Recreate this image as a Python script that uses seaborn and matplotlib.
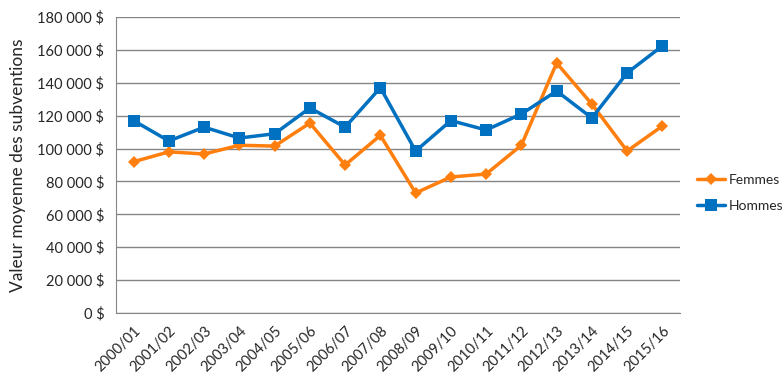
import matplotlib
matplotlib.use("Agg")
import matplotlib.pyplot as plt
import matplotlib.ticker as mticker
import seaborn as sns
import numpy as np
import pandas as pd

annees = ["2000/01", "2001/02", "2002/03", "2003/04", "2004/05", "2005/06",
          "2006/07", "2007/08", "2008/09", "2009/10", "2010/11", "2011/12",
          "2012/13", "2013/14", "2014/15", "2015/16"]
femmes = [92000, 98000, 96700, 102000, 101500, 115500, 90000, 108000,
          73000, 82700, 84500, 102000, 152000, 127000, 98500, 113700]
hommes = [117000, 104600, 113000, 106400, 109000, 124700, 113000, 137000,
          98500, 117000, 111300, 121000, 135000, 118600, 146000, 162400]

sns.set_style("white")
plt.rcParams['font.family'] = ['Lato', 'DejaVu Sans']

df = pd.DataFrame({"pos": np.arange(len(annees)), "Femmes": femmes, "Hommes": hommes})

fig = plt.figure(figsize=(7.83, 3.84), dpi=100)
ax = fig.add_axes([116/783, 1-313/384, (680-116)/783, (313-17)/384])

sns.lineplot(data=df, x="pos", y="Femmes", ax=ax, color="#FF7F0E", marker="D",
             markersize=6, linewidth=2.5, markeredgewidth=0, label="Femmes")
sns.lineplot(data=df, x="pos", y="Hommes", ax=ax, color="#0070C0", marker="s",
             markersize=8, linewidth=2.5, markeredgewidth=0, label="Hommes")

ax.set_xlim(-0.5, len(annees) - 0.5)
ax.set_ylim(0, 180000)
ax.yaxis.set_major_locator(mticker.MultipleLocator(20000))
ax.yaxis.set_major_formatter(mticker.FuncFormatter(
    lambda v, p: "0 $" if v == 0 else "{:,.0f} $".format(v).replace(",", " ")))
ax.grid(axis="y", color="#868686", linewidth=1)
ax.set_axisbelow(True)

ax.set_xticks(np.arange(len(annees)))
ax.set_xticklabels(annees, rotation=45, ha="right", rotation_mode="anchor", fontsize=10.5)
ax.set_xticks(np.arange(len(annees) + 1) - 0.5, minor=True)
ax.tick_params(axis="x", which="major", length=0, pad=8)
ax.tick_params(axis="x", which="minor", length=5, color="#868686", direction="out")
ax.tick_params(axis="y", length=5, color="#868686", direction="out", labelsize=10.5)
ax.set_xlabel("")
ax.set_ylabel("Valeur moyenne des subventions", fontsize=12.5, labelpad=8)

for s in ["top", "right"]:
    ax.spines[s].set_visible(False)
for s in ["left", "bottom"]:
    ax.spines[s].set_color("#868686")

ax.legend(loc="center left", bbox_to_anchor=(1.03, 0.405), frameon=False,
          fontsize=10, handlelength=2.0, handletextpad=0.3, borderpad=0,
          borderaxespad=0, labelspacing=1.0)

fig.savefig("out.png", dpi=100)
